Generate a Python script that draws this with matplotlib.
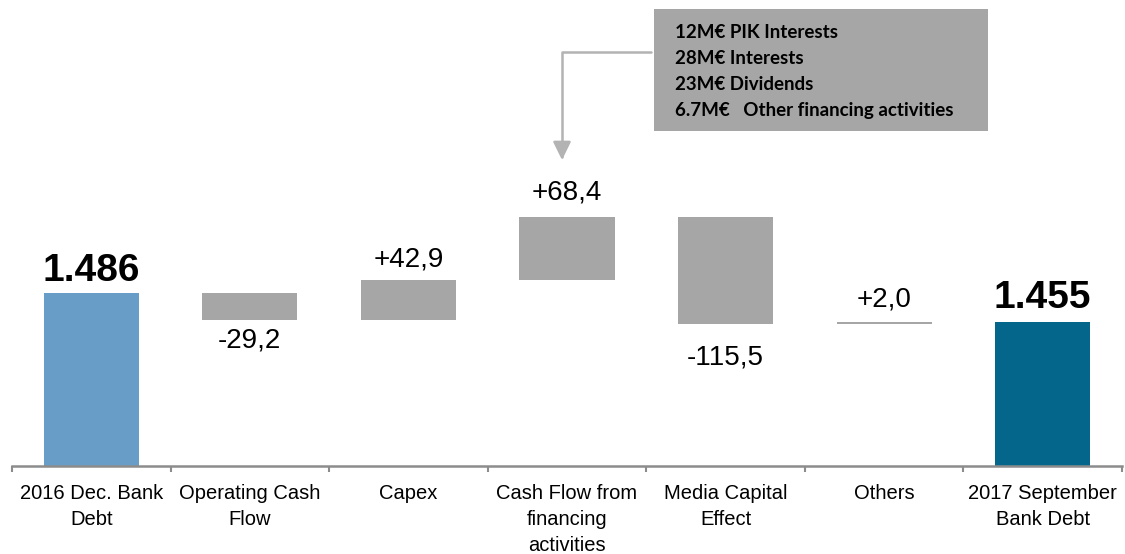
import matplotlib.pyplot as plt
from matplotlib.patches import Rectangle, FancyArrowPatch
from matplotlib.path import Path

# bank debt bridge, M€
categories = ['2016 Dec. Bank\nDebt', 'Operating Cash\nFlow', 'Capex',
              'Cash Flow from\nfinancing\nactivities', 'Media Capital\nEffect',
              'Others', '2017 September\nBank Debt']
start_debt = 1486
end_debt = 1455
deltas = [-29.2, 42.9, 68.4, -115.5, 2.0]
delta_labels = ['-29,2', '+42,9', '+68,4', '-115,5', '+2,0']
total_labels = ['1.486', '1.455']
box_lines = ['12M€ PIK Interests', '28M€ Interests', '23M€ Dividends',
             '6.7M€   Other financing activities']

START_COLOR = '#679DC7'
END_COLOR = '#03668A'
STEP_COLOR = '#A6A6A6'
AXIS_COLOR = '#8C8C8C'
LABEL_FONT = ['Liberation Sans', 'DejaVu Sans']

PX = 0.72  # points per pixel at 100 dpi

fig = plt.figure(figsize=(11.25, 5.54), dpi=100)
ax = fig.add_axes([12 / 1125, 88 / 554, 1110 / 1125, 466 / 554])
ax.set_xlim(-0.5, len(categories) - 0.5)
ax.set_ylim(1298, 1804.5)

width = 0.6

# totals
ax.bar(0, start_debt - 1298, bottom=1298, width=width, color=START_COLOR)
ax.bar(len(categories) - 1, end_debt - 1298, bottom=1298, width=width, color=END_COLOR)

# floating steps
level = start_debt
step_tops = []
step_bottoms = []
for i, d in enumerate(deltas, start=1):
    lo = min(level, level + d)
    hi = max(level, level + d)
    ax.bar(i, hi - lo, bottom=lo, width=width, color=STEP_COLOR, linewidth=0)
    step_tops.append(hi)
    step_bottoms.append(lo)
    level += d

# value labels (offsets in pixels)
above_px = {1: 14, 2: 17.5, 4: 15}
below_px = {0: 28, 3: 41}
for k, (d, lab) in enumerate(zip(deltas, delta_labels)):
    if d > 0:
        ax.annotate(lab, (k + 1, step_tops[k]), xytext=(0, above_px[k] * PX),
                    textcoords='offset points', ha='center', va='baseline',
                    fontsize=20, family=LABEL_FONT)
    else:
        ax.annotate(lab, (k + 1, step_bottoms[k]), xytext=(0, -below_px[k] * PX),
                    textcoords='offset points', ha='center', va='baseline',
                    fontsize=20, family=LABEL_FONT)

for x, val, lab, off in [(0, start_debt, total_labels[0], 12.5),
                         (len(categories) - 1, end_debt, total_labels[1], 14)]:
    ax.annotate(lab, (x, val), xytext=(0, off * PX), textcoords='offset points',
                ha='center', va='baseline', fontsize=28, fontweight='bold',
                family=LABEL_FONT)

# axis styling
for s in ['left', 'top', 'right']:
    ax.spines[s].set_visible(False)
ax.spines['bottom'].set_color(AXIS_COLOR)
ax.spines['bottom'].set_linewidth(1.8)
ax.set_yticks([])
ax.set_xticks(range(len(categories)))
ax.set_xticklabels(categories, fontsize=14.5, family=LABEL_FONT, linespacing=1.45)
ax.tick_params(axis='x', which='major', length=0, pad=13)
ax.set_xticks([i - 0.5 for i in range(len(categories) + 1)], minor=True)
ax.tick_params(axis='x', which='minor', length=4.5, width=1.5, color=AXIS_COLOR)

# note box for the financing step
fig.add_artist(Rectangle((654 / 1125, (554 - 131) / 554), 334 / 1125, 122 / 554,
                         transform=fig.transFigure, facecolor=STEP_COLOR,
                         edgecolor='none'))
for j, line in enumerate(box_lines):
    y_px = 33 + j * 25.7
    fig.text(675 / 1125, (554 - y_px) / 554, line, ha='left', va='center',
             fontsize=13.5, fontweight='bold', family=['Lato', 'DejaVu Sans'])

arrow_path = Path([(651 / 1125, (554 - 52) / 554),
                   (562 / 1125, (554 - 52) / 554),
                   (562 / 1125, (554 - 160) / 554)],
                  [Path.MOVETO, Path.LINETO, Path.LINETO])
fig.add_artist(FancyArrowPatch(path=arrow_path, transform=fig.transFigure,
                               arrowstyle='-|>,head_length=0.55,head_width=0.27',
                               mutation_scale=20, color='#B3B3B3', linewidth=1.8))

fig.savefig('out.png', dpi=100)
